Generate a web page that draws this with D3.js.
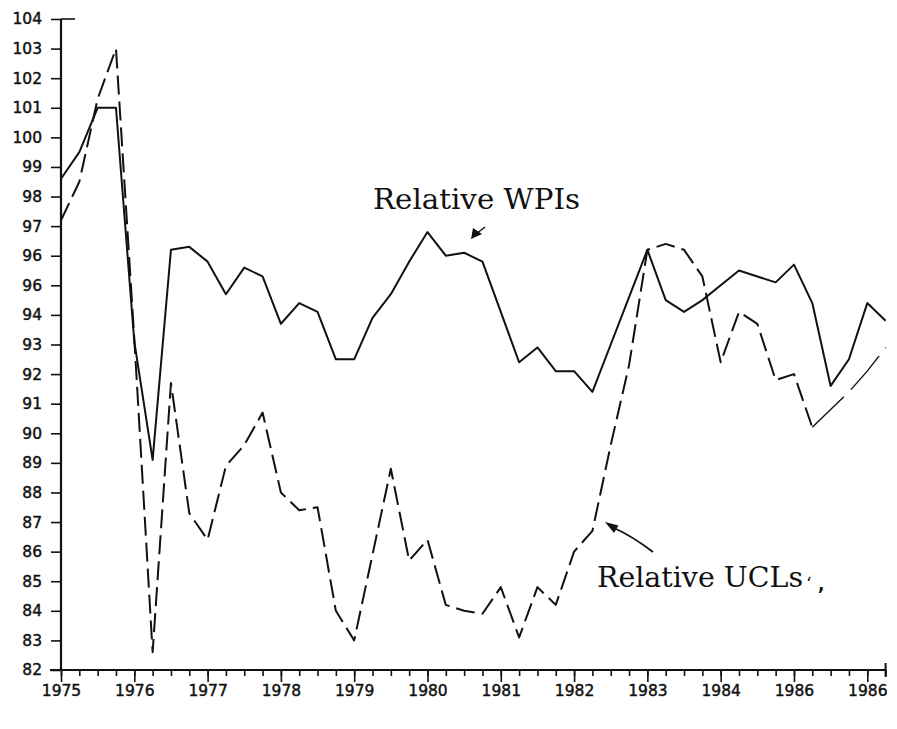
<!DOCTYPE html>
<html>
<head>
<meta charset="utf-8">
<script src="https://cdn.jsdelivr.net/npm/d3@7"></script>
<style>
  body { margin: 0; background: #fff; }
  svg text { fill: #111; }
</style>
</head>
<body>
<div id="chart"></div>
<script>
// quarterly observations, 1975 Q1 .. 1986 Q2
const quarters = d3.range(46).map(i => 1975 + i / 4);

const relativeWPI = [
    98.6, 99.5, 101.0, 101.0, 93.1, 89.1, 96.2, 96.3, 95.8, 94.7,
    95.6, 95.3, 93.7, 94.4, 94.1, 92.5, 92.5, 93.9, 94.7, 95.8,
    96.8, 96.0, 96.1, 95.8, 94.1, 92.4, 92.9, 92.1, 92.1, 91.4,
    93.0, 94.6, 96.2, 94.5, 94.1, 94.5, 95.0, 95.5, 95.3, 95.1,
    95.7, 94.4, 91.6, 92.5, 94.4, 93.8
];

const relativeUCL = [
    97.2, 98.5, 101.3, 103.0, 93.2, 82.6, 91.7, 87.3, 86.4, 88.9,
    89.6, 90.7, 88.0, 87.4, 87.5, 84.0, 83.0, 85.9, 88.8, 85.7,
    86.4, 84.2, 84.0, 83.9, 84.8, 83.1, 84.8, 84.2, 86.0, 86.7,
    89.6, 92.3, 96.2, 96.4, 96.2, 95.3, 92.4, 94.1, 93.7, 91.8,
    92.0, 90.2, 90.8, 91.4, 92.1, 92.9
];

const yTicks = d3.range(82, 105);
const yTickLabels = ["82", "83", "84", "85", "86", "87", "88", "89", "90", "91",
    "92", "93", "94", "96", "96", "97", "98", "99", "100", "101", "102", "103", "104"];

const xYears = d3.range(1975, 1987);
const xTickLabels = ["1975", "1976", "1977", "1978", "1979", "1980",
    "1981", "1982", "1983", "1984", "1986", "1986"];

const wSvg = 897;
const hSvg = 729;

const svg = d3.select("#chart")
    .append("svg")
    .attr("width", wSvg)
    .attr("height", hSvg);

// Scales
const xScale = d3.scaleLinear([1975, 1986.25], [61, 885.6]);
const yScale = d3.scaleLinear([82, 104], [670, 19]);

function styleTickText(sel) {
    sel.attr("font-family", "DejaVu Sans")
        .attr("font-size", 15.5)
        .attr("fill", "#111")
        .attr("stroke", "#111")
        .attr("stroke-width", 0.45);
}

// Y axis
const yAxis = svg.append("g")
    .attr("transform", `translate(${xScale(1975)}, 0)`)
    .call(d3.axisLeft(yScale)
        .tickValues(yTicks)
        .tickFormat((d, i) => yTickLabels[i])
        .tickSize(10)
        .tickPadding(9)
        .tickSizeOuter(0));
yAxis.select(".domain").remove();
yAxis.selectAll("line").attr("stroke", "#111").attr("stroke-width", 1.6);
yAxis.selectAll("text").call(styleTickText);

svg.append("line")
    .attr("x1", xScale(1975)).attr("x2", xScale(1975))
    .attr("y1", yScale(104)).attr("y2", yScale(82))
    .attr("stroke", "#111").attr("stroke-width", 2.2);
// top tick crosses the axis
svg.append("line")
    .attr("x1", xScale(1975)).attr("x2", xScale(1975) + 14)
    .attr("y1", yScale(104)).attr("y2", yScale(104))
    .attr("stroke", "#111").attr("stroke-width", 1.6);

// X axis: quarter ticks, then year ticks with labels
const xMinor = svg.append("g")
    .attr("transform", `translate(0, ${yScale(82)})`)
    .call(d3.axisBottom(xScale)
        .tickValues(quarters)
        .tickFormat("")
        .tickSize(6)
        .tickSizeOuter(0));
xMinor.select(".domain").remove();
xMinor.selectAll("line").attr("stroke", "#111").attr("stroke-width", 1.6);

const xMajor = svg.append("g")
    .attr("transform", `translate(0, ${yScale(82)})`)
    .call(d3.axisBottom(xScale)
        .tickValues(xYears)
        .tickFormat((d, i) => xTickLabels[i])
        .tickSize(12)
        .tickPadding(3)
        .tickSizeOuter(0));
xMajor.select(".domain").remove();
xMajor.selectAll("line").attr("stroke", "#111").attr("stroke-width", 1.6);
xMajor.selectAll("text").call(styleTickText);

svg.append("line")
    .attr("x1", xScale(1975) - 11).attr("x2", xScale(1986.25))
    .attr("y1", yScale(82)).attr("y2", yScale(82))
    .attr("stroke", "#111").attr("stroke-width", 2.2);
svg.append("line")
    .attr("x1", xScale(1986.25)).attr("x2", xScale(1986.25))
    .attr("y1", yScale(82) - 7).attr("y2", yScale(82) + 7)
    .attr("stroke", "#111").attr("stroke-width", 2);

// Lines
const line = d3.line()
    .x(d => xScale(d[0]))
    .y(d => yScale(d[1]));

const wpiPoints = quarters.map((q, i) => [q, relativeWPI[i]]);
const uclPoints = quarters.map((q, i) => [q, relativeUCL[i]]);

svg.append("path")
    .attr("d", line(wpiPoints))
    .attr("fill", "none")
    .attr("stroke", "#111")
    .attr("stroke-width", 2)
    .attr("stroke-linejoin", "round");

svg.append("path")
    .attr("d", line(uclPoints.slice(0, 42)))
    .attr("fill", "none")
    .attr("stroke", "#111")
    .attr("stroke-width", 2)
    .attr("stroke-dasharray", "19,7")
    .attr("stroke-linejoin", "round");

// the last stretch of UCLs is printed thinner with long dashes
svg.append("path")
    .attr("d", line(uclPoints.slice(41)))
    .attr("fill", "none")
    .attr("stroke", "#111")
    .attr("stroke-width", 1.4)
    .attr("stroke-dasharray", "44,10");

// Annotations (typewritten)
function label(x, y, txt, len) {
    svg.append("text")
        .attr("x", x).attr("y", y)
        .attr("font-family", "DejaVu Serif")
        .attr("font-size", 27)
        .attr("textLength", len)
        .attr("lengthAdjust", "spacingAndGlyphs")
        .attr("fill", "#111")
        .text(txt);
}
label(373, 209, "Relative WPIs", 207);
label(597, 587, "Relative UCLs", 206);

svg.append("text")
    .attr("x", 806).attr("y", 590)
    .attr("font-family", "DejaVu Serif")
    .attr("font-size", 18)
    .attr("fill", "#111")
    .text("\u2018");
svg.append("text")
    .attr("x", 818).attr("y", 590)
    .attr("font-family", "DejaVu Sans")
    .attr("font-weight", "bold")
    .attr("font-size", 17)
    .attr("fill", "#111")
    .text(",");

// small arrow under "Relative WPIs"
svg.append("line")
    .attr("x1", 485).attr("y1", 227).attr("x2", 476).attr("y2", 234)
    .attr("stroke", "#111").attr("stroke-width", 1.5);
svg.append("path")
    .attr("d", "M471,239 L473,228 L482,234 Z")
    .attr("fill", "#111");

// curved arrow pointing at the UCL line
svg.append("path")
    .attr("d", "M653,552 Q632,536 614,528")
    .attr("fill", "none")
    .attr("stroke", "#111")
    .attr("stroke-width", 1.8);
svg.append("path")
    .attr("d", "M605,522 L618.5,525.5 L614,533 Z")
    .attr("fill", "#111");
</script>
</body>
</html>
